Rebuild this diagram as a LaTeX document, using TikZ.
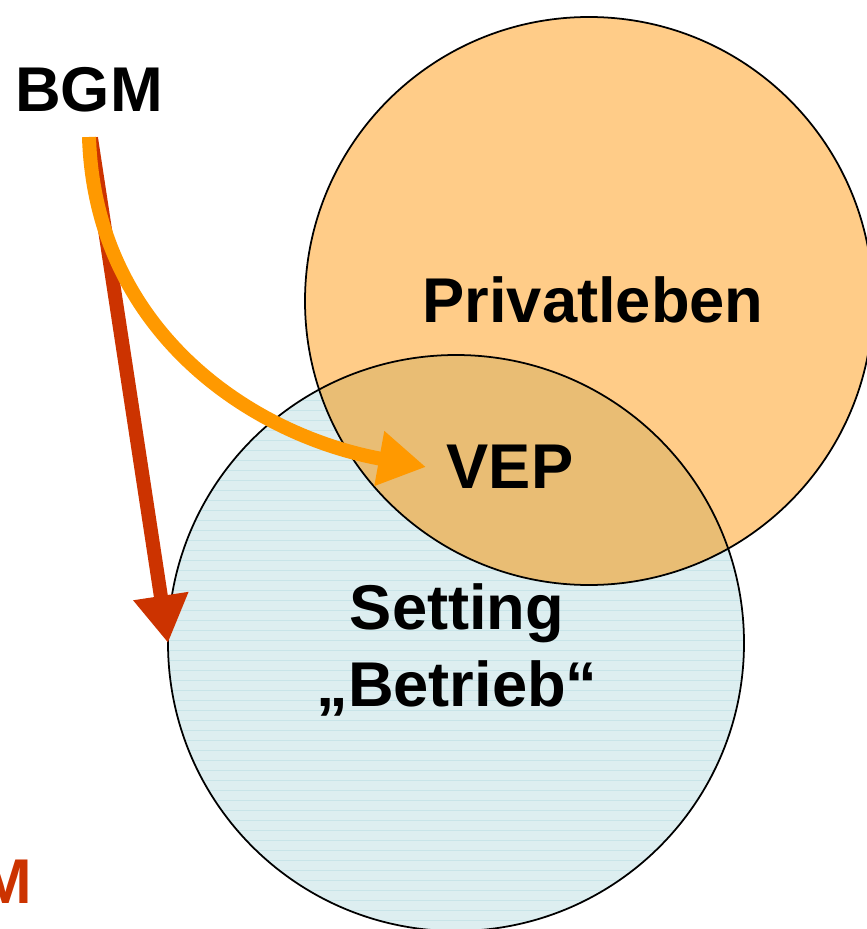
\documentclass[tikz,border=0pt]{standalone}
\usepackage{fontspec}
\setmainfont{Liberation Sans}
\usetikzlibrary{arrows.meta}
\definecolor{privat}{HTML}{FFCC88}
\definecolor{betrieb}{HTML}{DDEEF0}
\definecolor{betriebline}{HTML}{C8E4E8}
\definecolor{schnitt}{HTML}{E9BD74}
\definecolor{pfeilrot}{HTML}{CC3300}
\definecolor{pfeilorange}{HTML}{FF9900}
\tikzstyle{bigtext}=[font=\fontsize{36}{44}\selectfont\bfseries,align=center,inner sep=0pt]
\tikzstyle{rand}=[draw=black,line width=1pt]
\tikzstyle{pfeil}=[line width=0.28cm,-{Triangle[length=0.95cm,width=1.05cm]}]

\begin{document}
\begin{tikzpicture}[x=0.02cm,y=-0.02cm]
    \useasboundingbox (0,0) rectangle (866,929);
    % the two settings
    \coordinate (bmitte) at (456,643);
    \coordinate (pmitte) at (589,301);
    \fill[betrieb] (bmitte) circle[radius=288];
    \begin{scope}
        \clip (bmitte) circle[radius=288];
        \foreach \y in {360,370,...,930}
            \draw[betriebline,line width=0.4pt] (150,\y) -- (760,\y);
    \end{scope}
    \fill[privat] (pmitte) circle[radius=284];
    % overlap
    \begin{scope}
        \clip (pmitte) circle[radius=284];
        \fill[schnitt] (bmitte) circle[radius=288];
    \end{scope}
    \draw[rand] (bmitte) circle[radius=288];
    \draw[rand] (pmitte) circle[radius=284];
    % texts
    \node[bigtext] (bgm) at (89,90) {BGM};
    \node[bigtext] (privat) at (593,300) {Privatleben};
    \node[bigtext] (vep) at (510,467) {VEP};
    \node[bigtext] (setting) at (457,650) {Setting\\„Betrieb“};
    \node[bigtext,text=pfeilrot] (bgmrot) at (6,882) {M};
    % arrows
    \coordinate (rstart) at (91,138);
    \coordinate (rende) at (168,643);
    \coordinate (ostart) at (89,137);
    \coordinate (oende) at (426,467);
    \draw[pfeil,pfeilrot] (rstart) -- (rende);
    \draw[pfeil,pfeilorange] (ostart) .. controls (95,330) and (250,435) .. (oende);
\end{tikzpicture}
\end{document}
